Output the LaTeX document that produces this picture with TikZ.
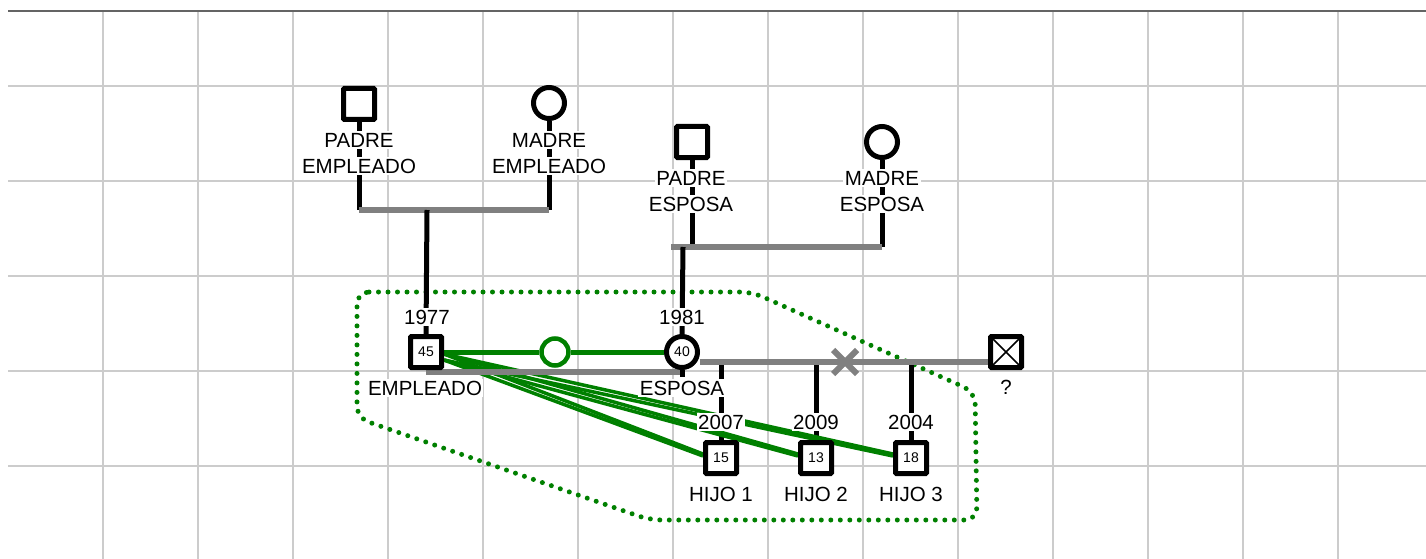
\documentclass[tikz,border=0pt]{standalone}
\usepackage{fontspec}
\setmainfont{Liberation Sans}
\pgfdeclarelayer{gridlayer}
\pgfdeclarelayer{linelayer}
\pgfsetlayers{gridlayer,linelayer,main}
\definecolor{gridc}{RGB}{204,204,204}
\definecolor{topc}{RGB}{100,100,100}
\definecolor{relgray}{RGB}{128,128,128}
\definecolor{relgreen}{RGB}{0,128,0}
\tikzset{
  gridline/.style={draw=gridc, line width=1.3pt},
  topline/.style={draw=topc, line width=1.5pt},
  male/.style={rectangle, draw=black, line width=5pt, fill=white, minimum size=31pt, inner sep=0pt, rounded corners=1pt, font=\fontsize{14}{16}\selectfont},
  female/.style={circle, draw=black, line width=5pt, fill=white, minimum size=31pt, inner sep=0pt, font=\fontsize{14}{16}\selectfont},
  greenc/.style={circle, draw=relgreen, line width=4.5pt, fill=white, minimum size=27pt, inner sep=0pt},
  lbl/.style={fill=white, inner sep=1.5pt, font=\fontsize{20.5}{24}\selectfont, text height=14.7pt, text depth=0pt},
  plainlbl/.style={inner sep=1.5pt, font=\fontsize{20.5}{24}\selectfont, text height=14.7pt, text depth=0pt},
  blk/.style={draw=black, line width=5pt},
  grayl/.style={draw=relgray, line width=6pt},
  grn/.style={draw=relgreen, line width=5pt},
  grnthin/.style={draw=relgreen, line width=3.5pt},
  dotg/.style={draw=relgreen, line width=5pt, line cap=round, dash pattern=on 0pt off 9.5pt, rounded corners=12pt},
}
\begin{document}
\begin{tikzpicture}[x=1pt,y=-1pt]
\useasboundingbox (0,0) rectangle (1426,559);
% grid
\begin{pgfonlayer}{gridlayer}
  \fill[white] (0,0) rectangle (1426,559);
  \foreach \x in {103,198,...,1338} \draw[gridline] (\x,11) -- (\x,559);
  \foreach \y in {86,181,276,371,466} \draw[gridline] (8,\y) -- (1426,\y);
  \draw[topline] (8,11) -- (1426,11);
  % dotted group outline
  \draw[dotg] (357,292) -- (752,292) -- (975,392) -- (977,520) -- (650,520) -- (357,418) -- cycle;
\end{pgfonlayer}

% individuals
\node[male] (pe) at (359,104) {};
\node[female] (me) at (549,103) {};
\node[male] (pes) at (692,142) {};
\node[female] (mes) at (882,142) {};
\node[male] (emp) at (426,352) {45};
\node[female] (esp) at (682,352) {40};
\node[male] (h1) at (721,458) {15};
\node[male] (h2) at (816,458) {13};
\node[male] (h3) at (911,458) {18};
\node[male] (unk) at (1006,352) {};
\node[greenc] (gc) at (555,352) {};
\draw[black, line width=1.6pt] ([shift={(2,2)}]unk.north west) -- ([shift={(-2,-2)}]unk.south east)
  ([shift={(-2,2)}]unk.north east) -- ([shift={(2,-2)}]unk.south west);

% coordinates for family lines
\coordinate (b1l) at (359,210);
\coordinate (b1r) at (549,210);
\coordinate (b1m) at (427,210);
\coordinate (b2l) at (671,247);
\coordinate (b2p) at (692,247);
\coordinate (b2r) at (882,247);
\coordinate (b2m) at (683,247);
\coordinate (c1) at (426,372);
\coordinate (c2) at (680,372);
\coordinate (c3) at (700,362);
\coordinate (c4) at (990,362);
\coordinate (k1) at (721,362);
\coordinate (k2) at (816,362);
\coordinate (k3) at (911,362);
\coordinate (et) at (682,377);

\begin{pgfonlayer}{linelayer}
  \draw[blk] (pe.south) -- (b1l);
  \draw[blk] (me.south) -- (b1r);
  \draw[grayl] (b1l) -- (b1r);
  \draw[blk] (b1m) -- (emp.north);
  \draw[blk] (pes.south) -- (b2p);
  \draw[blk] (mes.south) -- (b2r);
  \draw[grayl] (b2l) -- (b2r);
  \draw[blk] (b2m) -- (esp.north);
  \draw[blk] (esp.south) -- (et);
  \draw[blk] (k1) -- (h1.north);
  \draw[blk] (k2) -- (h2.north);
  \draw[blk] (k3) -- (h3.north);
  % emotional relations
  \draw[grn] (emp.east) -- (gc);
  \draw[grn] (gc) -- (esp);
  \draw[grnthin] ([yshift=-2pt]emp.east) -- ([yshift=4pt]h1.west);
  \draw[grnthin] ([yshift=-8pt]emp.east) -- ([yshift=2pt]h1.west);
  \draw[grnthin] ([yshift=-2pt]emp.east) -- ([yshift=4pt]h2.west);
  \draw[grnthin] ([yshift=-8pt]emp.east) -- ([yshift=2pt]h2.west);
  \draw[grnthin] ([yshift=-2pt]emp.east) -- ([yshift=4pt]h3.west);
  \draw[grnthin] ([yshift=-8pt]emp.east) -- ([yshift=2pt]h3.west);
  \draw[grayl] (c1) -- (c2);
  \draw[grayl] (c3) -- (c4);
  \draw[grayl] (833,350) -- (857,374) (833,374) -- (857,350);
\end{pgfonlayer}

% labels
\node[lbl] (l1) at (359,140) {PADRE};
\node[lbl] (l2) at (359,166) {EMPLEADO};
\node[lbl] (l3) at (549,140) {MADRE};
\node[lbl] (l4) at (549,166) {EMPLEADO};
\node[lbl] (l5) at (691,178) {PADRE};
\node[lbl] (l6) at (691,204) {ESPOSA};
\node[lbl] (l7) at (882,178) {MADRE};
\node[lbl] (l8) at (882,204) {ESPOSA};
\node[lbl] (l9) at (427,317) {1977};
\node[lbl] (l10) at (682,317) {1981};
\node[lbl] (l11) at (425,388) {EMPLEADO};
\node[lbl] (l12) at (682,388) {ESPOSA};
\node[lbl] (l13) at (721,422) {2007};
\node[lbl] (l14) at (816,422) {2009};
\node[lbl] (l15) at (911,422) {2004};
\node[plainlbl] (l16) at (721,494) {HIJO 1};
\node[plainlbl] (l17) at (816,494) {HIJO 2};
\node[plainlbl] (l18) at (911,494) {HIJO 3};
\node[plainlbl] (l19) at (1006,387) {?};
\end{tikzpicture}
\end{document}
